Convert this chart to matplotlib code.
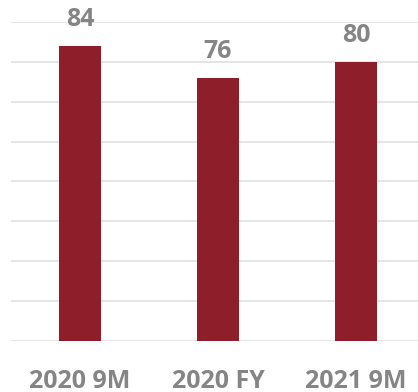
import matplotlib
matplotlib.use("Agg")
import matplotlib.pyplot as plt

periods = ["2020 9M", "2020 FY", "2021 9M"]
values = [84, 76, 80]

bar_color = "#8E1F2A"
text_color = "#858585"
grid_color = "#E3E3E3"

fig = plt.figure(figsize=(4.18, 3.92), dpi=100)
# plot area runs past the right edge, so the last gridline is cut off
ax = fig.add_axes([11 / 418, 1 - 340.7 / 392, 414 / 418, 318.7 / 392])

x = range(len(periods))
ax.bar(x, values, width=0.31, color=bar_color, zorder=3)

ax.set_xlim(-0.5, 2.5)
ax.set_ylim(10, 90)
ax.set_yticks(range(10, 91, 10))
ax.yaxis.grid(True, color=grid_color, linewidth=1.3, zorder=0)
ax.tick_params(left=False, labelleft=False, bottom=False, labelbottom=False)
for s in ax.spines.values():
    s.set_visible(False)

font = dict(fontfamily="Open Sans", fontweight="bold", color=text_color,
            ha="center", va="baseline", textcoords="offset pixels",
            annotation_clip=False)

# category names under the baseline
for i, name in enumerate(periods):
    ax.annotate(name, (i, 10), xytext=(0, -47), fontsize=18, **font)

# value labels above each bar
for i, v in enumerate(values):
    ax.annotate(str(v), (i, v), xytext=(0, 20), fontsize=18, **font)

fig.savefig("out.png", dpi=100)
